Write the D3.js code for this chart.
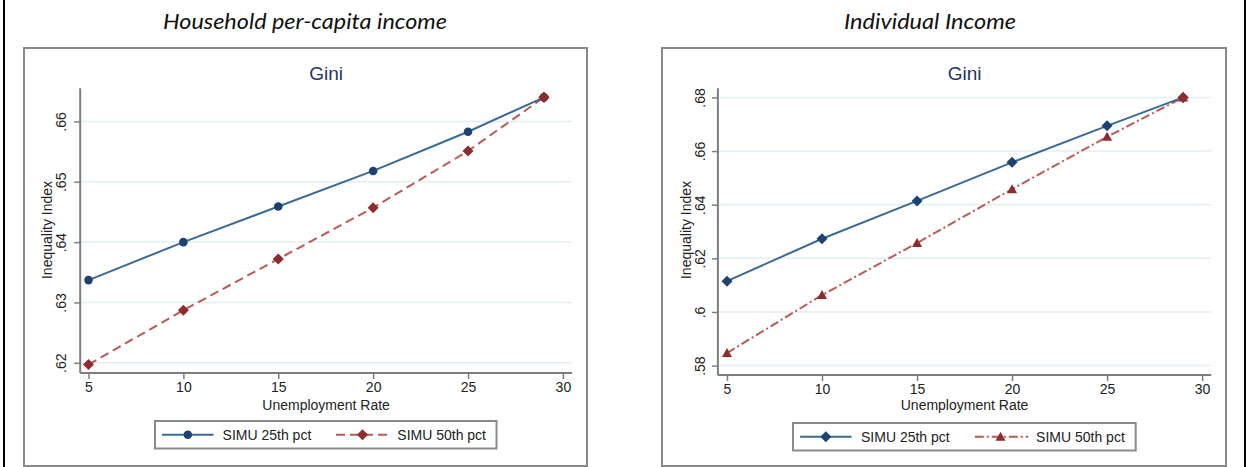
<!DOCTYPE html>
<html><head><meta charset="utf-8">
<script src="https://cdn.jsdelivr.net/npm/d3@7"></script>
<style>
html,body{margin:0;padding:0;background:#fff;}
svg{display:block;}
</style></head>
<body>
<svg id="c" width="1246" height="467"></svg>
<script>
// ---- data ----
const xValues = [5, 10, 15, 20, 25, 29];
const xTicks = [5, 10, 15, 20, 25, 30];
const householdP25 = [0.6337, 0.6400, 0.6459, 0.6518, 0.6583, 0.6640];
const householdP50 = [0.6197, 0.6287, 0.6372, 0.6457, 0.6551, 0.6640];
const individualP25 = [0.6115, 0.6273, 0.6414, 0.6558, 0.6694, 0.6800];
const individualP50 = [0.5847, 0.6063, 0.6257, 0.6458, 0.6653, 0.6800];
const householdYTicks = [0.62, 0.63, 0.64, 0.65, 0.66];
const individualYTicks = [0.58, 0.60, 0.62, 0.64, 0.66, 0.68];
const panelTitles = ["Household per-capita income", "Individual Income"];
const chartTitle = "Gini";
const seriesNames = ["SIMU 25th pct", "SIMU 50th pct"];
const xAxisTitle = "Unemployment Rate";
const yAxisTitle = "Inequality Index";

const svg = d3.select("#c");
const BLUE_LINE = "#3a6a96", BLUE_MARK = "#1d426f";
const RED_LINE = "#b85a57", RED_MARK = "#8f2b2d";
const fmt = v => { const s = String(+v.toFixed(2)); return s.replace(/^0/, ""); };

// outer black frame sides
svg.append("rect").attr("x", 3).attr("y", 0).attr("width", 2).attr("height", 467).attr("fill", "#000");
svg.append("rect").attr("x", 1244).attr("y", 0).attr("width", 2).attr("height", 467).attr("fill", "#000");

const panels = [
  {title: panelTitles[0], titleX: 305, titleW: 284, box: [24, 48, 587, 466],
   xRange: [88.5, 562.9], axisX: 80.2, plotRight: 572, plotTop: 88.3, plotBottom: 373,
   yDomain: [0.6183, 0.6655], yTicks: householdYTicks, s1: householdP25, s2: householdP50,
   m1: "circle", m2: "diamond", dash2: "9,5",
   ytl: 61.3, yat: 47.4, legend: [155, 421, 496.5, 448.5], leg1: [162, 213.5, 187.8, 222.6], leg2: [336, 389.4, 362.5, 397.3]},
  {title: panelTitles[1], titleX: 930, titleW: 172, box: [662, 48, 1226, 466],
   xRange: [727, 1202.1], axisX: 717.9, plotRight: 1211.2, plotTop: 88.3, plotBottom: 375,
   yDomain: [0.5765, 0.6834], yTicks: individualYTicks, s1: individualP25, s2: individualP50,
   m1: "diamond", m2: "triangle", dash2: "9,3,2,3",
   ytl: 700.1, yat: 686.3, legend: [793, 423, 1135.7, 450.5], leg1: [800.1, 851.5, 825.8, 861], leg2: [974.8, 1028.2, 1000.5, 1036.1]}
];

function marker(g, type, x, y, color) {
  if (type === "circle") {
    g.append("circle").attr("cx", x).attr("cy", y).attr("r", 4.3).attr("fill", color);
  } else if (type === "diamond") {
    g.append("path").attr("d", `M${x},${y-5.5}L${x+5.5},${y}L${x},${y+5.5}L${x-5.5},${y}Z`).attr("fill", color);
  } else {
    g.append("path").attr("d", `M${x},${y-5}L${x+5},${y+4}L${x-5},${y+4}Z`).attr("fill", color);
  }
}

panels.forEach(p => {
  const g = svg.append("g");
  // panel italic title
  g.append("text").attr("x", p.titleX).attr("y", 29).attr("text-anchor", "middle")
    .attr("font-family", "Lato, 'Open Sans', sans-serif").attr("font-style", "italic")
    .attr("font-size", 22).attr("fill", "#111")
    .attr("textLength", p.titleW).attr("lengthAdjust", "spacingAndGlyphs").text(p.title);
  // box
  g.append("rect").attr("x", p.box[0]).attr("y", p.box[1]).attr("width", p.box[2]-p.box[0]).attr("height", p.box[3]-p.box[1])
    .attr("fill", "#fff").attr("stroke", "#8a8a8a").attr("stroke-width", 2);

  const x = d3.scaleLinear().domain([5, 30]).range(p.xRange);
  const y = d3.scaleLinear().domain(p.yDomain).range([p.plotBottom, p.plotTop]);

  // Gini title
  g.append("text").attr("x", (p.axisX + p.plotRight)/2).attr("y", 80).attr("text-anchor", "middle")
    .attr("font-family", "'Liberation Sans', Arial, sans-serif").attr("font-size", 19).attr("fill", "#1f3566").text(chartTitle);

  // gridlines
  g.append("g").selectAll("line").data(p.yTicks).join("line")
    .attr("x1", p.axisX).attr("x2", p.plotRight).attr("y1", d => y(d)).attr("y2", d => y(d))
    .attr("stroke", "#e4eef2").attr("stroke-width", 1.5);

  // x axis
  const xa = g.append("g").attr("transform", `translate(0,${p.plotBottom})`)
    .call(d3.axisBottom(x).tickValues(xTicks).tickSize(6).tickSizeOuter(0).tickPadding(3));
  xa.select(".domain").remove();
  xa.append("line").attr("x1", p.axisX).attr("x2", p.plotRight).attr("stroke", "#7d7d7d").attr("stroke-width", 2);
  xa.selectAll(".tick line").attr("stroke", "#7d7d7d").attr("stroke-width", 1.5);
  xa.selectAll(".tick text").attr("font-family", "'Liberation Sans', Arial, sans-serif").attr("font-size", 14).attr("fill", "#222");

  // y axis
  const ya = g.append("g").attr("transform", `translate(${p.axisX},0)`)
    .call(d3.axisLeft(y).tickValues(p.yTicks).tickFormat(fmt).tickSize(6).tickSizeOuter(0));
  ya.select(".domain").remove();
  ya.append("line").attr("y1", p.plotTop).attr("y2", p.plotBottom).attr("stroke", "#7d7d7d").attr("stroke-width", 2);
  ya.selectAll(".tick line").attr("stroke", "#7d7d7d").attr("stroke-width", 1.5);
  ya.selectAll(".tick text")
    .attr("x", null).attr("dy", null)
    .attr("transform", `translate(${p.ytl - p.axisX},0) rotate(-90)`)
    .attr("text-anchor", "middle").attr("dominant-baseline", "central")
    .attr("font-family", "'Liberation Sans', Arial, sans-serif").attr("font-size", 14).attr("fill", "#222");

  // axis titles
  g.append("text").attr("x", (p.axisX + p.plotRight)/2).attr("y", 410).attr("text-anchor", "middle")
    .attr("font-family", "'Liberation Sans', Arial, sans-serif").attr("font-size", 14).attr("fill", "#222").text(xAxisTitle);
  g.append("text").attr("transform", `translate(${p.yat},230) rotate(-90)`).attr("text-anchor", "middle")
    .attr("dominant-baseline", "central")
    .attr("font-family", "'Liberation Sans', Arial, sans-serif").attr("font-size", 14).attr("fill", "#222").text(yAxisTitle);

  // lines
  const line = d3.line().x((d, i) => x(xValues[i])).y(d => y(d));
  g.append("path").datum(p.s2).attr("d", line).attr("fill", "none").attr("stroke", RED_LINE)
    .attr("stroke-width", 2).attr("stroke-dasharray", p.dash2);
  g.append("path").datum(p.s1).attr("d", line).attr("fill", "none").attr("stroke", BLUE_LINE).attr("stroke-width", 2);
  p.s2.forEach((v, i) => marker(g, p.m2, x(xValues[i]), y(v), RED_MARK));
  p.s1.forEach((v, i) => { if (i < p.s1.length - 1) marker(g, p.m1, x(xValues[i]), y(v), BLUE_MARK); });
  // last point: red on top (overlap)
  marker(g, p.m1, x(xValues[5]), y(p.s1[5]), BLUE_MARK);
  marker(g, p.m2 === "triangle" ? "diamond" : p.m2, x(xValues[5]), y(p.s2[5]), RED_MARK);

  // legend
  const L = p.legend;
  g.append("rect").attr("x", L[0]).attr("y", L[1]).attr("width", L[2]-L[0]).attr("height", L[3]-L[1])
    .attr("fill", "#fff").attr("stroke", "#8a8a8a").attr("stroke-width", 2);
  const ly = (L[1] + L[3]) / 2;
  g.append("line").attr("x1", p.leg1[0]).attr("x2", p.leg1[1]).attr("y1", ly).attr("y2", ly).attr("stroke", BLUE_LINE).attr("stroke-width", 2);
  marker(g, p.m1, p.leg1[2], ly, BLUE_MARK);
  g.append("text").attr("x", p.leg1[3]).attr("y", ly).attr("dominant-baseline", "central")
    .attr("font-family", "'Liberation Sans', Arial, sans-serif").attr("font-size", 14).attr("fill", "#222").text(seriesNames[0]);
  g.append("line").attr("x1", p.leg2[0]).attr("x2", p.leg2[1]).attr("y1", ly).attr("y2", ly).attr("stroke", RED_LINE)
    .attr("stroke-width", 2).attr("stroke-dasharray", p.dash2);
  marker(g, p.m2, p.leg2[2], ly, RED_MARK);
  g.append("text").attr("x", p.leg2[3]).attr("y", ly).attr("dominant-baseline", "central")
    .attr("font-family", "'Liberation Sans', Arial, sans-serif").attr("font-size", 14).attr("fill", "#222").text(seriesNames[1]);
});
</script>
</body></html>
